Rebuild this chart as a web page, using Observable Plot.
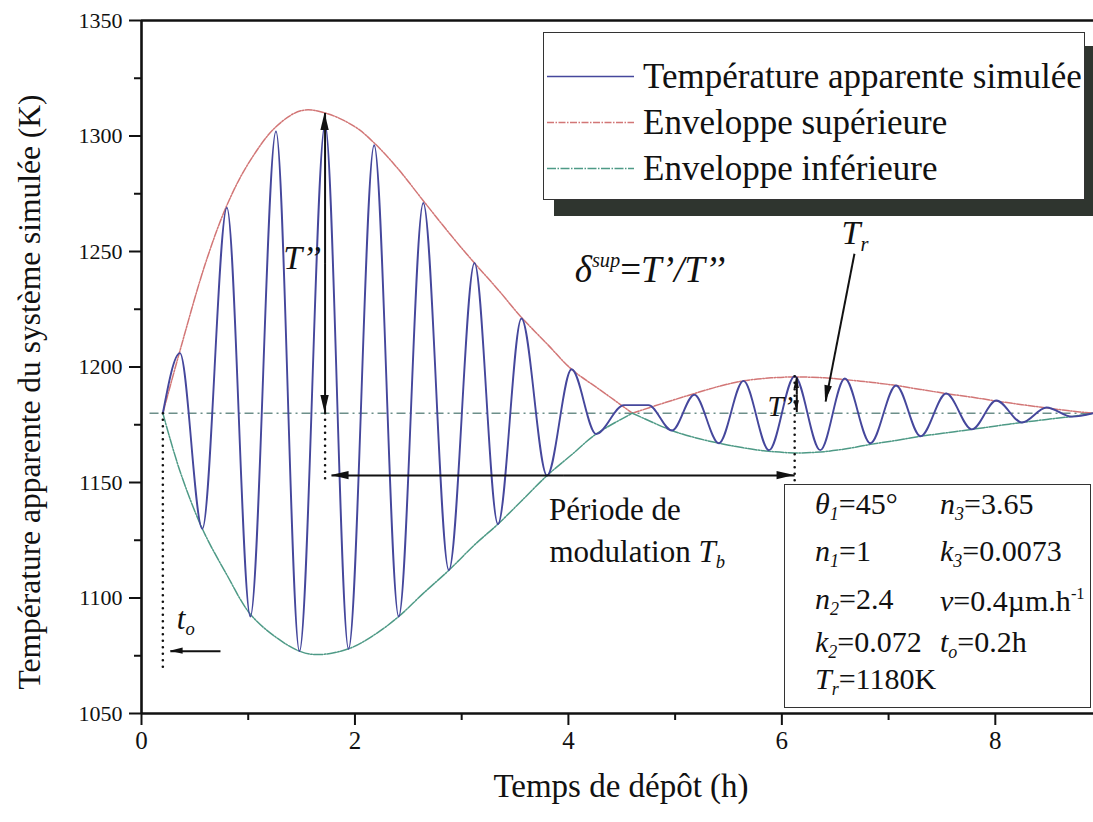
<!DOCTYPE html>
<html><head><meta charset="utf-8">
<script src="https://cdn.jsdelivr.net/npm/d3@7"></script>
<script src="https://cdn.jsdelivr.net/npm/@observablehq/plot@0.6"></script>
<style>
body{margin:0;background:#fff;}
#wrap{position:relative;width:1093px;height:822px;overflow:hidden;font-family:"Liberation Serif","Times New Roman",serif;color:#111;}
.lab{position:absolute;white-space:nowrap;line-height:1;}
.lab sub{font-size:0.6em;vertical-align:-0.35em;}
.lab sup{font-size:0.55em;vertical-align:0.75em;}
.box{position:absolute;background:#fff;border:1.5px solid #333;box-sizing:border-box;}
.row{position:absolute;white-space:nowrap;line-height:1;}
.row sub{font-size:0.6em;vertical-align:-0.35em;}
.row sup{font-size:0.55em;vertical-align:0.7em;}
</style></head><body><div id="wrap"></div>
<script>
// ---- data ----
// simulated apparent temperature: successive extrema (h, K)
const signalTime = [0.2, 0.36, 0.57, 0.80, 1.02, 1.26, 1.48, 1.72, 1.94, 2.18, 2.41, 2.64, 2.88, 3.12, 3.34, 3.56, 3.80, 4.03, 4.26, 4.52, 4.75, 4.97, 5.18, 5.41, 5.64, 5.88, 6.12, 6.36, 6.59, 6.83, 7.07, 7.30, 7.54, 7.78, 8.01, 8.25, 8.48, 8.72, 8.92];
const signalTemp = [1180, 1206, 1130, 1269, 1092, 1302, 1077, 1305, 1078, 1296, 1092, 1271, 1112, 1245, 1132, 1221, 1153, 1199, 1171, 1183.5, 1183.5, 1172.5, 1188, 1167, 1194, 1164, 1196, 1164, 1195, 1167, 1192, 1170, 1188.5, 1173, 1185.5, 1176, 1182.5, 1178.5, 1180];

// upper envelope (two branches meeting at the beat node)
const upperTime   = [0.2, 0.36, 0.6, 0.8, 1.0, 1.26, 1.5, 1.72, 2.0, 2.18, 2.4, 2.64, 2.9, 3.12, 3.35, 3.55, 3.8, 4.03, 4.3, 4.6,
                     4.6, 4.9, 5.18, 5.4, 5.64, 5.9, 6.12, 6.4, 6.6, 6.85, 7.07, 7.3, 7.54, 7.8, 8.02, 8.25, 8.48, 8.7, 8.92];
const upperTemp   = [1180, 1207, 1245, 1270, 1288, 1304, 1311, 1310, 1304, 1297, 1286, 1272, 1257, 1245, 1233, 1222, 1210, 1199, 1190, 1180,
                     1180, 1184.5, 1188.5, 1191.5, 1194, 1195.3, 1195.7, 1195.3, 1194.5, 1193.3, 1192, 1190.3, 1188.5, 1186.8, 1185.2, 1183.7, 1182.3, 1181, 1180];
const upperBranch = [0,0,0,0,0,0,0,0,0,0,0,0,0,0,0,0,0,0,0,0, 1,1,1,1,1,1,1,1,1,1,1,1,1,1,1,1,1,1,1];

// lower envelope
const lowerTime   = [0.2, 0.36, 0.57, 0.8, 1.02, 1.26, 1.48, 1.65, 1.94, 2.18, 2.41, 2.64, 2.88, 3.12, 3.34, 3.56, 3.8, 4.03, 4.26, 4.6,
                     4.6, 4.97, 5.18, 5.41, 5.64, 5.88, 6.12, 6.36, 6.59, 6.83, 7.07, 7.3, 7.54, 7.78, 8.01, 8.25, 8.48, 8.72, 8.92];
const lowerTemp   = [1180, 1155, 1130, 1110, 1093, 1083, 1077, 1075.5, 1078, 1084, 1092, 1102, 1112, 1123, 1132, 1142, 1153, 1162, 1171, 1180,
                     1180, 1172.5, 1169.5, 1167, 1165, 1163.5, 1162.8, 1163.2, 1164.5, 1166.5, 1168.2, 1170, 1171.5, 1173, 1174.5, 1176, 1177.3, 1178.6, 1180];
const lowerBranch = [0,0,0,0,0,0,0,0,0,0,0,0,0,0,0,0,0,0,0,0, 1,1,1,1,1,1,1,1,1,1,1,1,1,1,1,1,1,1,1];

const refLevel = 1180, refFrom = 0.08, xEnd = 8.92;

const xMajor = [0, 2, 4, 6, 8];
const xMinor = [1, 3, 5, 7];
const yMajor = [1050, 1100, 1150, 1200, 1250, 1300, 1350];
const yMinor = [1075, 1125, 1175, 1225, 1275, 1325];

const legendLabels = ["Température apparente simulée", "Enveloppe supérieure", "Enveloppe inférieure"];
const seriesColors = ["#45479c", "#d27676", "#4e9a86"];

// annotation geometry (data units)
const dottedX    = [0.2, 1.72, 6.12];
const dottedFrom = [1180, 1180, 1196];
const dottedTo   = [1070, 1150, 1148];
// arrows: start -> end (head drawn at end)
const arrowX1 = [1.72, 1.72, 3.95, 3.95, 6.14, 6.14, 6.68, 0.74];
const arrowY1 = [1245, 1245, 1153, 1153, 1188, 1188, 1249, 1077];
const arrowX2 = [1.72, 1.72, 1.78, 6.12, 6.14, 6.14, 6.41, 0.27];
const arrowY2 = [1310, 1180, 1153, 1153, 1195.5, 1180.5, 1185, 1077];
const arrowHeadSize = [11, 11, 11, 11, 7, 7, 10, 8];

const noteHtml = ["T’’", "<i>δ</i><sup><i>sup</i></sup>=<i>T’/T’’</i>", "<i>T</i><sub><i>r</i></sub>", "<i>T’</i>", "<i>t</i><sub><i>o</i></sub>", "Période de", "modulation <i>T</i><sub><i>b</i></sub>"];
const noteX    = [1.51, 4.77, 6.69, 5.99, 0.42, 4.44, 4.65];
const noteY    = [1247, 1242, 1257, 1183, 1090, 1138.5, 1119];
const noteSize = [34, 37, 34, 29, 31, 31, 31];
const noteItalic = [true, false, false, false, false, false, false];

const paramRows = [
  ["<i>θ</i><sub><i>1</i></sub>=45°", "<i>n</i><sub><i>3</i></sub>=3.65"],
  ["<i>n</i><sub><i>1</i></sub>=1", "<i>k</i><sub><i>3</i></sub>=0.0073"],
  ["<i>n</i><sub><i>2</i></sub>=2.4", "<i>v</i>=0.4µm.h<sup>-1</sup>"],
  ["<i>k</i><sub><i>2</i></sub>=0.072", "<i>t</i><sub><i>o</i></sub>=0.2h"],
  ["<i>T</i><sub><i>r</i></sub>=1180K", ""]
];

// ---- build tables ----
const signal = signalTime.map((t, i) => ({t, v: signalTemp[i]}));
const upper = upperTime.map((t, i) => ({t, v: upperTemp[i], b: upperBranch[i]}));
const lower = lowerTime.map((t, i) => ({t, v: lowerTemp[i], b: lowerBranch[i]}));
const dotted = dottedX.map((x, i) => ({x, y1: dottedFrom[i], y2: dottedTo[i]}));
const arrows = arrowX1.map((x1, i) => ({x1, y1: arrowY1[i], x2: arrowX2[i], y2: arrowY2[i], r: arrowHeadSize[i]}));

const W = 1093, H = 822, mL = 141, mR = 0, mT = 20, mB = 109;

const chart = Plot.plot({
  width: W, height: H, marginLeft: mL, marginRight: mR, marginTop: mT, marginBottom: mB,
  style: {fontFamily: "'Liberation Serif', 'Times New Roman', serif", color: "#111", background: "transparent", overflow: "visible"},
  x: {domain: [0, xEnd]},
  y: {domain: [1050, 1350]},
  marks: [
    Plot.axisX({ticks: xMinor, tickSize: 7, strokeWidth: 2, tickFormat: () => "", label: null}),
    Plot.axisX({ticks: xMajor, tickSize: 12, strokeWidth: 2, tickPadding: 6, fontSize: 25, tickFormat: d => String(d), label: null}),
    Plot.axisY({ticks: yMinor, tickSize: 7, strokeWidth: 2, tickFormat: () => "", label: null}),
    Plot.axisY({ticks: yMajor, tickSize: 12, strokeWidth: 2, tickPadding: 7, fontSize: 22, tickFormat: d => String(d), label: null}),
    Plot.ruleY([refLevel], {x1: refFrom, x2: xEnd, stroke: "#6d8f8a", strokeWidth: 1.6, strokeDasharray: "9,4,2,4"}),
    Plot.line(upper, {x: "t", y: "v", z: "b", curve: "catmull-rom", stroke: seriesColors[1], strokeWidth: 1.5, strokeDasharray: "7,1.5,1.5,1.5"}),
    Plot.line(lower, {x: "t", y: "v", z: "b", curve: "catmull-rom", stroke: seriesColors[2], strokeWidth: 1.5, strokeDasharray: "9,1.5,1.5,1.5"}),
    Plot.line(signal, {x: "t", y: "v", curve: "monotone-x", stroke: seriesColors[0], strokeWidth: 1.9}),
    Plot.link(dotted, {x1: "x", x2: "x", y1: "y1", y2: "y2", stroke: "#111", strokeWidth: 2.6, strokeDasharray: "0,6.5", strokeLinecap: "round"}),
    Plot.link(arrows, {x1: "x1", y1: "y1", x2: "x2", y2: "y2", stroke: "#111", strokeWidth: 2}),
    Plot.ruleX([0], {stroke: "#111", strokeWidth: 2.6}),
    Plot.ruleY([1050, 1350], {stroke: "#111", strokeWidth: 2.6})
  ]
});
const wrap = document.getElementById("wrap");
wrap.appendChild(chart);

const sx = chart.scale("x"), sy = chart.scale("y");

// filled arrowheads at each arrow end, placed through Plot's scales
d3.select(chart).append("g").attr("aria-label", "arrowheads")
  .selectAll("path").data(arrows).join("path")
  .attr("fill", "#111")
  .attr("d", a => {
    const tx = sx.apply(a.x2), ty = sy.apply(a.y2);
    const fx = sx.apply(a.x1), fy = sy.apply(a.y1);
    let ux = tx - fx, uy = ty - fy; const n = Math.hypot(ux, uy) || 1; ux /= n; uy /= n;
    const L = a.r * 1.6, w = a.r * 0.38;
    const bx = tx - ux * L, by = ty - uy * L;
    return `M${tx},${ty}L${bx - uy * w},${by + ux * w}L${bx + uy * w},${by - ux * w}Z`;
  });

function addLabel(html, px, py, size, extra) {
  const d = document.createElement("div");
  d.className = "lab";
  d.innerHTML = html;
  d.style.left = px + "px";
  d.style.top = py + "px";
  d.style.fontSize = size + "px";
  d.style.transform = "translate(-50%,-50%)";
  if (extra) Object.assign(d.style, extra);
  wrap.appendChild(d);
  return d;
}
noteHtml.forEach((h, i) => {
  addLabel(h, sx.apply(noteX[i]), sy.apply(noteY[i]), noteSize[i], noteItalic[i] ? {fontStyle: "italic"} : null);
});

// axis titles
addLabel("Temps de dépôt (h)", 621, 786, 33);
addLabel("Température apparente du système simulée (K)", 30, 392, 31.5, {transform: "translate(-50%,-50%) rotate(-90deg)"});

// legend with shadow
const sh = document.createElement("div");
Object.assign(sh.style, {position: "absolute", left: "554px", top: "46px", width: "545px", height: "170px", background: "#2f352f"});
wrap.appendChild(sh);
const lg = document.createElement("div");
lg.className = "box";
Object.assign(lg.style, {left: "543px", top: "32px", width: "542px", height: "168px"});
wrap.appendChild(lg);
const dashes = ["", "7,1.5,1.5,1.5", "9,1.5,1.5,1.5"];
legendLabels.forEach((lab, i) => {
  const r = document.createElement("div");
  r.className = "row";
  Object.assign(r.style, {left: "3px", top: (43 + i * 46) + "px", transform: "translateY(-50%)", fontSize: "35px", display: "flex", alignItems: "center"});
  r.innerHTML = `<svg width="88" height="10" style="margin-right:8px"><line x1="0" y1="5" x2="87" y2="5" stroke="${seriesColors[i]}" stroke-width="1.6" stroke-dasharray="${dashes[i]}"/></svg><span>${lab}</span>`;
  lg.appendChild(r);
});

// parameter box
const pb = document.createElement("div");
pb.className = "box";
Object.assign(pb.style, {left: "784px", top: "484px", width: "307px", height: "224px"});
wrap.appendChild(pb);
const rowY = [21, 68, 116, 159, 196];
paramRows.forEach((cols, i) => {
  cols.forEach((c, j) => {
    if (!c) return;
    const r = document.createElement("div");
    r.className = "row";
    Object.assign(r.style, {left: (j ? 155 : 30) + "px", top: rowY[i] + "px", transform: "translateY(-50%)", fontSize: "30px"});
    r.innerHTML = c;
    pb.appendChild(r);
  });
});
</script></body></html>
